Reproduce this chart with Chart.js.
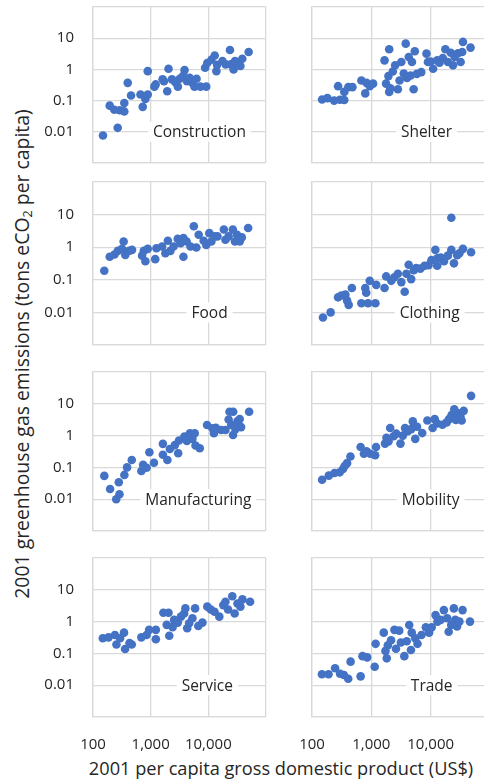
<!DOCTYPE html>
<html>
<head>
<meta charset="utf-8">
<script src="https://cdn.jsdelivr.net/npm/chart.js@4/dist/chart.umd.min.js"></script>
<style>
  body { margin: 0; background: #fff; font-family: "Open Sans", sans-serif; color: #262626; }
  #wrap { position: relative; width: 484px; height: 783px; overflow: hidden; }
  #wrap canvas { position: absolute; }
  .ytitle { position: absolute; left: 21px; top: 354px; transform: translate(-50%, -50%) rotate(-90deg);
            white-space: nowrap; font-size: 19.4px; }
  .xtitle { position: absolute; left: 281px; top: 768px; transform: translate(-50%, -50%);
            white-space: nowrap; font-size: 18.2px; }
  sub { font-size: 65%; vertical-align: -0.25em; line-height: 0; }
</style>
</head>
<body>
<div id="wrap">
  <div class="ytitle">2001 greenhouse gas emissions (tons eCO<sub>2</sub> per capita)</div>
  <div class="xtitle">2001 per capita gross domestic product (US$)</div>
</div>
<script>
/* global Chart */

// --- axis ticks ---
const xTickValues = [100, 1000, 10000, 100000];
const xTickLabels = ['100', '1,000', '10,000', ''];
const yTickValues = [0.001, 0.01, 0.1, 1, 10, 100];
const yTickLabels = ['', '0.01', '0.1', '1', '10', ''];

// --- data: GDP per capita (US$) / emissions (t eCO2 per capita) ---
const constructionGdp = [149,268,195,234,290,349,349,400,457,666,728,810,890,890,1160,1220,1610,1700,1940,2040,2340,2680,2960,3190,3620,3870,4260,4750,5300,5760,6250,7300,9200,8800,9600,11300,12900,13800,14200,17600,20000,23700,24500,27400,29000,32000,36000,38800,50000];
const constructionEmis = [0.0076,0.0134,0.069,0.051,0.049,0.045,0.084,0.37,0.145,0.156,0.063,0.113,0.156,0.88,0.28,0.33,0.48,0.42,0.2,1.05,0.48,0.39,0.28,0.5,0.61,0.95,0.42,0.54,0.37,0.28,0.5,0.28,0.28,1.13,1.6,2.04,2.8,0.88,1.4,1.85,1.45,4.2,1.45,1.0,1.85,1.6,1.28,2.2,3.6];

const shelterGdp = [148,182,236,275,295,350,350,410,480,680,790,830,940,1070,1670,1770,1940,2000,2090,2000,2300,2520,2800,2990,3200,3520,3800,4000,4270,4600,4840,5170,5400,5850,6950,8500,9000,10000,11000,12900,14100,16000,17700,19500,21800,23800,25400,28800,32000,35000,47000,34000];
const shelterEmis = [0.108,0.12,0.1,0.29,0.107,0.105,0.19,0.27,0.27,0.44,0.17,0.37,0.29,0.35,1.95,0.35,0.61,0.19,0.25,4.4,0.86,1.35,0.23,0.44,1.72,0.74,6.7,0.53,2.5,0.64,1.72,0.23,3.8,0.72,0.82,3.2,1.72,1.8,1.05,1.95,1.64,2.3,4.4,1.72,3.4,1.35,2.5,3.3,1.72,7.6,5.0,3.6];

const foodGdp = [157,195,236,270,318,340,363,420,475,710,760,810,890,1200,1260,1580,1800,1990,2200,2500,2950,3300,3700,4200,4900,5600,6200,6800,8300,9200,10400,11300,12800,14400,18600,19800,22500,26600,29000,31500,35000,38000,49000,3700];
const foodEmis = [0.19,0.51,0.6,0.77,0.89,1.5,0.58,0.77,0.83,0.55,0.77,0.37,0.89,0.43,0.93,1.05,0.65,1.58,0.77,1.05,1.8,1.33,0.51,1.5,1.05,4.4,0.98,2.4,1.58,1.18,2.7,1.5,2.15,2.15,3.5,1.7,2.15,3.5,1.5,2.4,1.5,2.0,3.9,1.9];

const clothingGdp = [153,206,275,312,365,415,470,390,680,790,820,880,940,1170,1210,1670,1780,2170,2450,2800,3200,3650,3900,4260,4700,5200,5700,6700,7900,9200,10300,12000,12900,14800,16800,19500,22300,22300,24700,28000,30500,35000,48000,13000];
const clothingEmis = [0.007,0.01,0.029,0.033,0.035,0.017,0.056,0.023,0.019,0.056,0.04,0.019,0.093,0.019,0.07,0.056,0.127,0.093,0.12,0.154,0.085,0.043,0.154,0.29,0.105,0.196,0.23,0.22,0.27,0.28,0.4,0.83,0.27,0.48,0.37,0.55,8.0,0.83,0.32,0.57,0.65,0.89,0.7,0.46];

const manufacturingGdp = [157,198,253,288,280,350,390,470,690,740,850,950,1140,1630,1630,1950,2150,2620,3000,3100,3850,4250,4800,5300,6000,5800,7100,9500,11800,12500,13500,16700,19800,23300,27000,22500,25000,26800,29500,32000,35000,37000,51000];
const manufacturingEmis = [0.054,0.021,0.01,0.0143,0.034,0.058,0.1,0.17,0.077,0.12,0.098,0.3,0.14,0.55,0.25,0.17,0.38,0.5,0.28,0.7,0.93,0.68,1.18,0.79,0.49,1.18,0.4,2.15,1.7,1.18,1.75,1.5,1.5,5.6,5.6,3.2,2.15,1.05,1.6,2.8,3.3,1.85,5.6];

const mobilityGdp = [148,192,240,293,333,355,390,445,660,750,830,960,1160,1200,1700,1800,1950,2080,2370,2640,3100,3400,3700,4100,4700,5000,5500,5900,7200,8800,10800,11700,12900,15800,18600,20400,22500,25000,26600,28300,31700,33300,36000,48000];
const mobilityEmis = [0.041,0.055,0.067,0.07,0.089,0.11,0.136,0.22,0.44,0.27,0.32,0.27,0.24,0.44,0.56,0.85,0.66,1.74,0.95,1.15,0.56,1.0,1.74,1.37,1.6,2.8,0.79,1.9,1.2,3.0,1.74,3.3,2.4,2.2,2.6,3.3,4.4,6.7,3.1,5.1,4.0,3.0,6.0,17.8];

const serviceGdp = [148,186,240,255,295,345,360,430,470,690,850,940,1230,1230,1660,2040,1900,2100,2400,2550,2950,3350,3800,4000,4300,4650,5300,5900,6700,7900,9600,11000,12800,15500,18200,19800,22000,26000,28600,32000,36000,39000,53000];
const serviceEmis = [0.3,0.32,0.38,0.19,0.3,0.45,0.137,0.21,0.19,0.32,0.38,0.55,0.28,0.55,1.9,1.9,0.79,0.36,0.67,1.13,0.93,1.43,1.8,2.6,0.62,0.89,1.27,2.6,0.73,0.93,2.95,2.4,2.05,1.43,3.3,4.2,2.4,6.3,1.8,3.7,2.95,5.0,4.2];

const tradeGdp = [147,190,245,297,345,408,447,660,710,850,1140,1180,1620,1730,1820,1900,2150,2450,2600,2950,3150,3600,3950,4350,4650,4800,5500,6000,7000,8300,9400,10400,12100,13000,14700,16700,19000,20100,22200,24600,26000,27800,30500,34500,46000];
const tradeEmis = [0.022,0.022,0.034,0.023,0.021,0.016,0.055,0.019,0.082,0.075,0.038,0.2,0.45,0.12,0.07,0.18,0.26,0.55,0.14,0.52,0.22,0.082,0.24,0.78,0.128,0.45,0.3,0.2,0.38,0.66,0.45,0.66,1.6,1.0,1.13,2.3,1.27,0.48,0.78,2.6,1.13,0.7,1.0,2.3,1.0];

// --- panel layout (col, row, where the in-panel caption sits) ---
const panels = [
  { name: 'Construction',  gdp: constructionGdp,  emis: constructionEmis,  col: 0, row: 0, lx: 7000 },
  { name: 'Shelter',       gdp: shelterGdp,       emis: shelterEmis,       col: 1, row: 0, lx: 8500 },
  { name: 'Food',          gdp: foodGdp,          emis: foodEmis,          col: 0, row: 1, lx: 10500 },
  { name: 'Clothing',      gdp: clothingGdp,      emis: clothingEmis,      col: 1, row: 1, lx: 9600 },
  { name: 'Manufacturing', gdp: manufacturingGdp, emis: manufacturingEmis, col: 0, row: 2, lx: 6700 },
  { name: 'Mobility',      gdp: mobilityGdp,      emis: mobilityEmis,      col: 1, row: 2, lx: 10000 },
  { name: 'Service',       gdp: serviceGdp,       emis: serviceEmis,       col: 0, row: 3, lx: 9600 },
  { name: 'Trade',         gdp: tradeGdp,         emis: tradeEmis,         col: 1, row: 3, lx: 10400 },
];

const cols = [
  { left: 0,   width: 274, yw: 93, pr: 8 },   // plot x 93..266
  { left: 290, width: 210, yw: 22, pr: 10 },  // plot x 312..490 (cut by page edge)
];
const rows = [
  { top: 7,   bottom: 163 },
  { top: 182, bottom: 345 },
  { top: 372, bottom: 531 },
  { top: 558, bottom: 717 },
];

const GRID = '#d9d9d9';
const TEXT = '#262626';
const BLUE = '#4472c4';
const FONT = '"Open Sans", sans-serif';

// caption with white box, sits on the 0.01 gridline
const panelLabel = {
  id: 'panelLabel',
  beforeDatasetsDraw(chart, args, opts) {
    const { ctx, scales: { x, y } } = chart;
    const px = x.getPixelForValue(opts.gdp);
    const py = y.getPixelForValue(opts.emis);
    ctx.save();
    ctx.font = '15.5px ' + FONT;
    const w = ctx.measureText(opts.text).width;
    ctx.fillStyle = '#fff';
    ctx.fillRect(px - w / 2 - 5, py - 10, w + 10, 20);
    ctx.fillStyle = TEXT;
    ctx.textAlign = 'center';
    ctx.textBaseline = 'middle';
    ctx.fillText(opts.text, px, py + 1);
    ctx.restore();
  },
};

// keep every plot box exactly where it sits in the picture
function noPad(s) {
  s.paddingTop = 0;
  s.paddingBottom = 0;
  s.paddingLeft = 0;
  s.paddingRight = 0;
}

function makePanel(p) {
  const c = cols[p.col];
  const r = rows[p.row];
  const last = p.row === rows.length - 1;
  const xh = last ? 50 : 0;

  const canvas = document.createElement('canvas');
  canvas.width = c.width;
  canvas.height = (r.bottom - r.top) + 8 + (last ? xh : 8);
  canvas.style.left = c.left + 'px';
  canvas.style.top = (r.top - 8) + 'px';
  document.getElementById('wrap').appendChild(canvas);

  return new Chart(canvas, {
    type: 'scatter',
    data: {
      datasets: [{
        data: p.gdp.map((g, i) => ({ x: g, y: p.emis[i] })),
        backgroundColor: BLUE,
        borderColor: BLUE,
        pointRadius: 4.3,
        pointBorderWidth: 0,
      }],
    },
    options: {
      responsive: false,
      animation: false,
      devicePixelRatio: 1,
      layout: { padding: { top: 8, bottom: last ? 0 : 8, left: 0, right: c.pr } },
      plugins: {
        legend: { display: false },
        tooltip: { enabled: false },
        panelLabel: { text: p.name, gdp: p.lx, emis: 0.01 },
      },
      scales: {
        x: {
          type: 'logarithmic',
          min: 100,
          max: 100000,
          afterBuildTicks: (s) => { s.ticks = xTickValues.map((v) => ({ value: v })); },
          afterFit: (s) => { s.height = xh; noPad(s); },
          grid: { color: GRID, lineWidth: 1.3, drawTicks: false },
          border: { color: GRID, width: 1.3 },
          ticks: {
            display: last,
            autoSkip: false,
            maxRotation: 0,
            padding: 19,
            color: TEXT,
            font: { family: FONT, size: 15 },
            callback: (v, i) => xTickLabels[i],
          },
        },
        y: {
          type: 'logarithmic',
          min: 0.001,
          max: 100,
          afterBuildTicks: (s) => { s.ticks = yTickValues.map((v) => ({ value: v })); },
          afterFit: (s) => { s.width = c.yw; noPad(s); },
          grid: { color: GRID, lineWidth: 1.3, drawTicks: false },
          border: { color: GRID, width: 1.3 },
          ticks: {
            display: p.col === 0,
            autoSkip: false,
            padding: 19,
            color: TEXT,
            font: { family: FONT, size: 15 },
            callback: (v, i) => yTickLabels[i],
          },
        },
      },
    },
    plugins: [panelLabel],
  });
}

document.fonts.load('15px "Open Sans"').then(() => panels.forEach(makePanel));
</script>
</body>
</html>
